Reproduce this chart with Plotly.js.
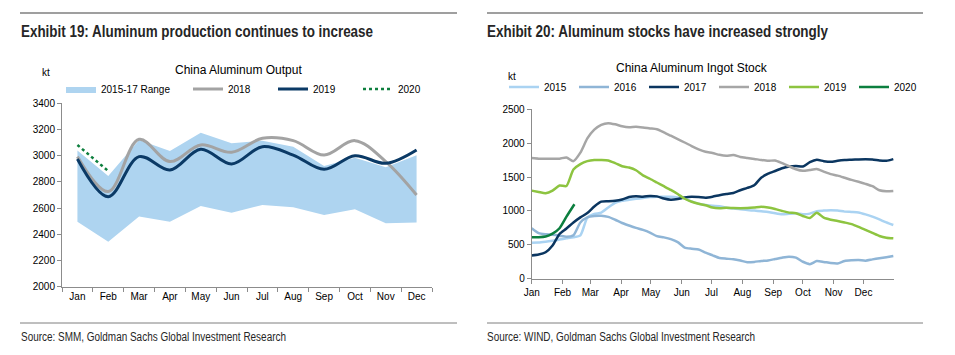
<!DOCTYPE html>
<html><head><meta charset="utf-8">
<script src="https://cdn.plot.ly/plotly-3.0.1.min.js"></script>
<style>
html,body{margin:0;padding:0;background:#fff}
#wrap{position:relative;width:955px;height:355px;overflow:hidden}
#chart{width:955px;height:355px}
.hdr{position:absolute;white-space:nowrap;font-family:'Liberation Sans',Arial,sans-serif;font-weight:bold;font-size:16px;line-height:20px;color:#262626;transform-origin:0 50%}
.src{position:absolute;white-space:nowrap;font-family:'Liberation Sans',Arial,sans-serif;font-size:12px;line-height:14px;color:#262626;transform-origin:0 50%}
</style>
</head><body>
<div id="wrap">
<div id="chart"></div>
<div class="hdr" style="left:21px;top:22px" data-w="352">Exhibit 19: Aluminum production continues to increase</div>
<div class="hdr" style="left:487px;top:22px" data-w="341">Exhibit 20: Aluminum stocks have increased strongly</div>
<div class="src" style="left:21px;top:330px" data-w="265">Source: SMM, Goldman Sachs Global Investment Research</div>
<div class="src" style="left:487px;top:330px" data-w="268">Source: WIND, Goldman Sachs Global Investment Research</div>
</div>
<script>
// ---------- Exhibit 19 data (kt) ----------
const months = ['Jan','Feb','Mar','Apr','May','Jun','Jul','Aug','Sep','Oct','Nov','Dec'];
const range1517Low  = [2496,2344,2535,2496,2616,2565,2624,2606,2547,2591,2484,2491];
const range1517High = [3039,2845,3120,3036,3176,3095,3115,3069,2922,2985,2911,3003];
const output2018 = [2993,2726,3125,2955,3082,3026,3133,3115,3005,3115,2955,2700];
const output2019 = [2975,2687,2993,2891,3049,2937,3069,3005,2896,3000,2942,3044];
const output2020 = [3082,2883];

// ---------- Exhibit 20 data (kt, weekly, day of year) ----------
const stockDays = [0,7,14,21,28,35,42,49,56,63,70,77,84,91,98,105,112,119,126,133,140,147,154,161,168,175,182,189,196,203,210,217,224,231,238,245,252,259,266,273,280,287,294,301,308,315,322,329,336,343,350,357,364];
const stock2015 = [531,533,545,560,578,595,612,640,900,955,975,1050,1120,1150,1165,1178,1192,1205,1210,1210,1208,1200,1185,1140,1105,1088,1075,1070,1046,1035,1025,1012,1005,995,985,965,950,958,965,952,960,995,1005,1012,1005,990,985,978,950,915,875,830,792];
const stock2016 = [745,672,655,648,635,618,640,830,905,925,928,912,870,822,785,750,720,680,628,610,585,540,460,442,430,385,345,305,295,287,268,243,248,262,270,290,310,325,310,250,215,260,248,232,226,262,272,276,266,285,302,318,335];
const stock2017 = [344,357,390,490,660,740,830,905,968,1065,1137,1142,1150,1170,1205,1218,1210,1222,1215,1183,1165,1175,1200,1210,1205,1196,1210,1232,1250,1265,1305,1340,1380,1490,1550,1590,1630,1656,1665,1655,1720,1755,1735,1725,1740,1750,1755,1760,1762,1760,1745,1740,1765];
const stock2018 = [1780,1772,1771,1771,1771,1790,1735,1860,2070,2200,2270,2295,2278,2250,2236,2242,2232,2218,2205,2160,2110,2060,2010,1958,1910,1873,1855,1828,1815,1825,1797,1782,1768,1752,1740,1745,1705,1660,1615,1592,1605,1618,1580,1543,1521,1490,1458,1430,1400,1365,1305,1290,1295];
const stock2019 = [1300,1280,1262,1300,1375,1368,1610,1690,1735,1752,1752,1745,1705,1660,1640,1600,1525,1475,1420,1365,1310,1250,1180,1135,1105,1085,1050,1040,1046,1042,1040,1042,1050,1062,1050,1028,1000,975,967,925,895,975,900,870,852,830,805,765,720,675,630,605,596];
const stock2020Days = [0,7,14,21,28,35,43];
const stock2020 = [611,612,622,665,745,915,1098];
const monthStartDays = [0,31,59,90,120,151,181,212,243,273,304,334];

const W = 955, H = 355;
const px = v => v / W;
const py = v => 1 - v / H;

const sans = 'Liberation Sans, Arial, sans-serif';

const traces = [
  {x: months, y: range1517Low, type:'scatter', mode:'lines', line:{width:0, color:'rgba(0,0,0,0)'},
   showlegend:false, hoverinfo:'skip', xaxis:'x', yaxis:'y'},
  {x: months, y: range1517High, type:'scatter', mode:'lines', name:'2015-17 Range', fill:'tonexty',
   fillcolor:'#AED4F0', line:{width:0, color:'#AED4F0'}, xaxis:'x', yaxis:'y', legend:'legend'},
  {x: months, y: output2018, type:'scatter', mode:'lines', name:'2018',
   line:{color:'#A3A3A3', width:3, shape:'spline', smoothing:1}, xaxis:'x', yaxis:'y', legend:'legend2'},
  {x: months, y: output2019, type:'scatter', mode:'lines', name:'2019',
   line:{color:'#0B3A66', width:3, shape:'spline', smoothing:1}, xaxis:'x', yaxis:'y', legend:'legend2'},
  {x: months.slice(0, output2020.length), y: output2020, type:'scatter', mode:'lines', name:'2020',
   line:{color:'#0E7F3E', width:2.5, dash:'dot'}, xaxis:'x', yaxis:'y', legend:'legend2'},

  {x: stockDays, y: stock2015, type:'scatter', mode:'lines', name:'2015',
   line:{color:'#AAD3F2', width:2.5, shape:'spline', smoothing:0.6}, xaxis:'x2', yaxis:'y2', legend:'legend3'},
  {x: stockDays, y: stock2016, type:'scatter', mode:'lines', name:'2016',
   line:{color:'#8FB5D6', width:2.5, shape:'spline', smoothing:0.6}, xaxis:'x2', yaxis:'y2', legend:'legend3'},
  {x: stockDays, y: stock2017, type:'scatter', mode:'lines', name:'2017',
   line:{color:'#0B3660', width:2.5, shape:'spline', smoothing:0.6}, xaxis:'x2', yaxis:'y2', legend:'legend3'},
  {x: stockDays, y: stock2018, type:'scatter', mode:'lines', name:'2018',
   line:{color:'#A6A6A6', width:2.5, shape:'spline', smoothing:0.6}, xaxis:'x2', yaxis:'y2', legend:'legend3'},
  {x: stockDays, y: stock2019, type:'scatter', mode:'lines', name:'2019',
   line:{color:'#8DC440', width:2.5, shape:'spline', smoothing:0.6}, xaxis:'x2', yaxis:'y2', legend:'legend3'},
  {x: stock2020Days, y: stock2020, type:'scatter', mode:'lines', name:'2020',
   line:{color:'#0C7F3F', width:2.5, shape:'spline', smoothing:0.6}, xaxis:'x2', yaxis:'y2', legend:'legend3'}
];

const axisCommon = {
  showgrid:false, zeroline:false, showline:true, linecolor:'#8C8C8C', linewidth:1,
  ticks:'outside', ticklen:4, tickcolor:'#8C8C8C', tickwidth:1,
  tickfont:{family:sans, size:10, color:'#000'}, fixedrange:true
};

const legendCommon = {
  orientation:'h', xanchor:'left', yanchor:'middle', bgcolor:'rgba(0,0,0,0)',
  font:{family:sans, size:10, color:'#000'}, itemwidth:30, tracegroupgap:0,
  borderwidth:0, itemclick:false, itemdoubleclick:false
};

const layout = {
  width:W, height:H, margin:{l:0, r:0, t:0, b:0},
  paper_bgcolor:'#fff', plot_bgcolor:'#fff',
  font:{family:sans, size:10, color:'#000'},
  showlegend:true,
  xaxis: Object.assign({}, axisCommon, {domain:[px(62), px(432)], anchor:'y', type:'category',
    tickson:'boundaries', range:[-0.5, 11.5]}),
  yaxis: Object.assign({}, axisCommon, {domain:[py(286.7), py(103.3)], anchor:'x',
    range:[2000, 3400], dtick:200}),
  xaxis2: Object.assign({}, axisCommon, {domain:[px(531.7), px(894.3)], anchor:'y2',
    range:[0, 365], tickmode:'array', tickvals:monthStartDays, ticktext:months}),
  yaxis2: Object.assign({}, axisCommon, {domain:[py(278.7), py(109.3)], anchor:'x2',
    range:[0, 2500], dtick:500}),
  legend: Object.assign({}, legendCommon, {x:px(61), y:py(89)}),
  legend2: Object.assign({}, legendCommon, {x:px(188), y:py(89), entrywidth:40}),
  legend3: Object.assign({}, legendCommon, {x:px(504), y:py(87), entrywidth:25}),
  shapes: [
    {type:'line', xref:'paper', yref:'paper', x0:px(20), x1:px(457), y0:py(13), y1:py(13), line:{color:'#7F7F7F', width:1.5}},
    {type:'line', xref:'paper', yref:'paper', x0:px(487), x1:px(923), y0:py(13), y1:py(13), line:{color:'#7F7F7F', width:1.5}},
    {type:'line', xref:'paper', yref:'paper', x0:px(20), x1:px(457), y0:py(323), y1:py(323), line:{color:'#7F7F7F', width:1}},
    {type:'line', xref:'paper', yref:'paper', x0:px(487), x1:px(923), y0:py(323), y1:py(323), line:{color:'#7F7F7F', width:1}}
  ],
  annotations: [
    {text:'China Aluminum Output', xref:'paper', yref:'paper', x:px(238), y:py(70),
     xanchor:'center', yanchor:'middle', showarrow:false, font:{family:sans, size:12, color:'#000'}},
    {text:'China Aluminum Ingot Stock', xref:'paper', yref:'paper', x:px(692), y:py(68),
     xanchor:'center', yanchor:'middle', showarrow:false, font:{family:sans, size:12, color:'#000'}},
    {text:'kt', xref:'paper', yref:'paper', x:px(45.5), y:py(73), xanchor:'center', yanchor:'middle',
     showarrow:false, font:{family:sans, size:10, color:'#000'}},
    {text:'kt', xref:'paper', yref:'paper', x:px(512), y:py(77), xanchor:'center', yanchor:'middle',
     showarrow:false, font:{family:sans, size:10, color:'#000'}}
  ]
};

Plotly.newPlot('chart', traces, layout, {displayModeBar:false, staticPlot:true});

// condense the header and source texts to the reference widths
document.querySelectorAll('.hdr, .src').forEach(el => {
  const target = parseFloat(el.dataset.w);
  const w = el.getBoundingClientRect().width;
  if (w > 0) el.style.transform = 'scaleX(' + (target / w) + ')';
});
</script>
</body></html>
